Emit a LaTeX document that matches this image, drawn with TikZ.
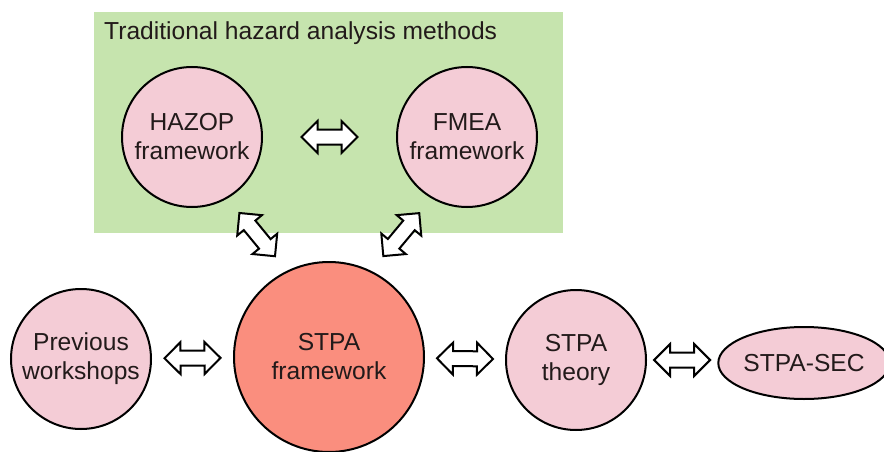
\documentclass[tikz,border=0pt]{standalone}
\usepackage{fontspec}
\setmainfont{Liberation Sans}
\usetikzlibrary{shapes.geometric,shapes.arrows}
\definecolor{boxgreen}{RGB}{198,228,174}
\definecolor{nodepink}{RGB}{244,204,214}
\definecolor{corered}{RGB}{250,142,126}
\definecolor{inktext}{RGB}{34,26,26}
\begin{document}
\begin{tikzpicture}[x=1pt,y=-1pt,
  every node/.style={font=\fontsize{24.6}{29}\selectfont, text=inktext},
  topic/.style={circle, draw=black, line width=2pt, fill=nodepink,
    minimum size=140pt, inner sep=0pt, align=center},
  core/.style={topic, fill=corered, minimum size=190pt},
  oval/.style={ellipse, draw=black, line width=2pt, fill=nodepink,
    minimum width=154pt, minimum height=72pt, inner sep=0pt},
  linkarrow/.style={double arrow, draw=black, line width=2pt, fill=white,
    minimum height=56pt, minimum width=30pt, inner sep=6.5pt,
    double arrow head extend=8.5pt, sloped, midway}
]
\useasboundingbox (0,0) rectangle (884,452);

% group of traditional methods
\node (group) [fill=boxgreen, minimum width=469pt, minimum height=221pt,
  inner sep=0pt, anchor=north west] at (94,12) {};
\node (title) [anchor=base west, inner sep=0pt] at (104,40)
  {Traditional hazard analysis methods};

% topics
\node (hazop)  [topic] at (192,137) {HAZOP\\framework};
\node (fmea)   [topic] at (467,137) {FMEA\\framework};
\node (prev)   [topic] at (81,359)  {Previous\\workshops};
\node (stpa)   [core]  at (329,357) {STPA\\framework};
\node (theory) [topic] at (576,360) {STPA\\theory};
\node (sec)    [oval]  at (804,363) {STPA-SEC};

% two-way links
\path (hazop) -- (fmea) node[linkarrow] {};
\path (hazop.-60) -- (stpa.116) node[linkarrow] {};
\path (fmea.-120) -- (stpa.64) node[linkarrow] {};
\path (prev) -- (stpa) node[linkarrow] {};
\path (stpa) -- (theory) node[linkarrow] {};
\path (theory.east) -- (sec.west |- theory.east) node[linkarrow] {};
\end{tikzpicture}
\end{document}
